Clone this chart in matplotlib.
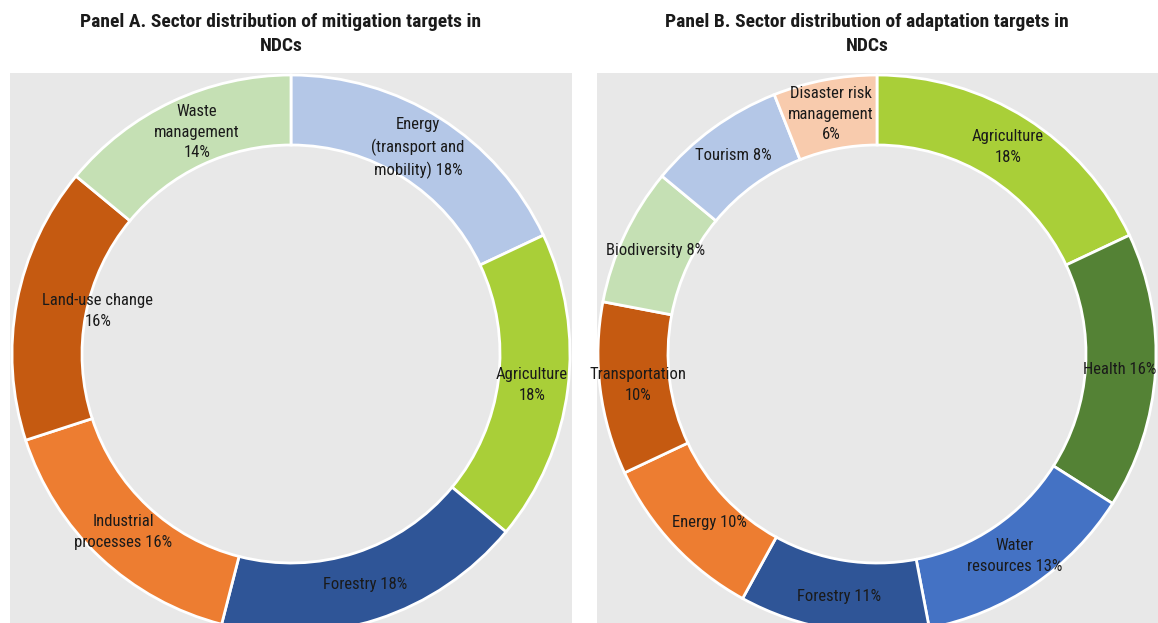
import matplotlib
matplotlib.use("Agg")
import matplotlib.pyplot as plt

# Sector shares (%) of NDC targets
mit_sectors = ["Energy\n(transport and\nmobility)", "Agriculture", "Forestry",
               "Industrial\nprocesses", "Land-use change", "Waste\nmanagement"]
mit_values = [18, 18, 18, 16, 16, 14]
mit_colors = ["#b4c7e7", "#a9cf38", "#2f5597", "#ed7d31", "#c55a11", "#c5e0b4"]

ada_sectors = ["Agriculture", "Health", "Water\nresources", "Forestry", "Energy",
               "Transportation", "Biodiversity", "Tourism", "Disaster risk\nmanagement"]
ada_values = [18, 16, 13, 11, 10, 10, 8, 8, 6]
ada_colors = ["#a9cf38", "#548235", "#4472c4", "#2f5597", "#ed7d31",
              "#c55a11", "#c5e0b4", "#b4c7e7", "#f8cbad"]

# label text layout: how the value joins the name, and offset from the centre (px)
mit_joins = [" ", "\n", " ", " ", "\n", "\n"]
mit_label_xy = [(127, 206), (241, -31), (74, -231), (-168, -178), (-193, 43), (-94, 222)]
ada_joins = ["\n", " ", " ", " ", " ", "\n", " ", " ", "\n"]
ada_label_xy = [(131, 207), (243, -15), (138, -202), (-38, -242), (-168, -169),
                (-239, -31), (-221, 104), (-144, 198), (-46, 240)]

titles = ["Panel A. Sector distribution of mitigation targets in\nNDCs",
          "Panel B. Sector distribution of adaptation targets in\nNDCs"]

plt.rcParams["font.family"] = ["Roboto Condensed", "Liberation Sans", "DejaVu Sans"]

W, H = 1158, 623
fig = plt.figure(figsize=(W / 100, H / 100), dpi=100)
fig.patch.set_facecolor("white")

panels = [
    dict(box=(10, 572), centre_x=291, sectors=mit_sectors, values=mit_values,
         colors=mit_colors, joins=mit_joins, label_xy=mit_label_xy, title=titles[0], title_x=281),
    dict(box=(597, 1158), centre_x=877, sectors=ada_sectors, values=ada_values,
         colors=ada_colors, joins=ada_joins, label_xy=ada_label_xy, title=titles[1], title_x=867),
]

top = 73
centre_y = 354
R_out, R_in = 279, 209

for p in panels:
    x0, x1 = p["box"]
    ax = fig.add_axes([x0 / W, 0, (x1 - x0) / W, (H - top) / H])
    ax.set_facecolor("#e8e8e8")
    cx = p["centre_x"] - x0
    cy = H - centre_y
    ax.pie(p["values"], colors=p["colors"], startangle=90, counterclock=False,
           radius=R_out, center=(cx, cy), frame=True,
           wedgeprops=dict(width=R_out - R_in, edgecolor="white", linewidth=2))
    ax.set_xlim(0, x1 - x0)
    ax.set_ylim(0, H - top)
    ax.set_aspect("auto")
    ax.set_xticks([])
    ax.set_yticks([])
    for s in ax.spines.values():
        s.set_visible(False)
    for name, val, join, (dx, dy) in zip(p["sectors"], p["values"], p["joins"], p["label_xy"]):
        ax.text(cx + dx, cy + dy, f"{name}{join}{val}%", ha="center", va="center",
                fontsize=12, color="#1a1a1a", linespacing=1.45)
    fig.text(p["title_x"] / W, 1 - 34 / H, p["title"], ha="center", va="center",
             fontsize=14, fontweight="bold", color="#1a1a1a", linespacing=1.45)

fig.savefig("out.png", dpi=100)
